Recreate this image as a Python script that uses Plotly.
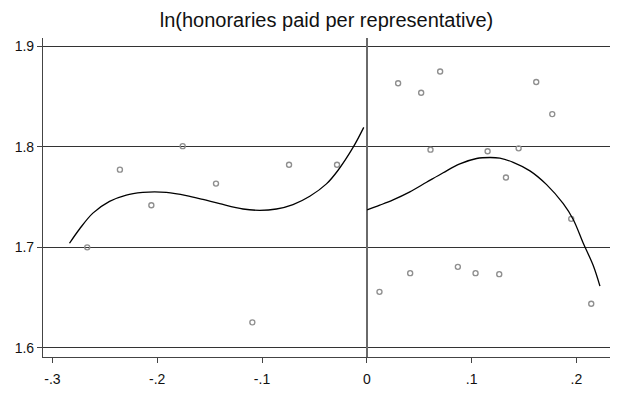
import plotly.graph_objects as go

# Scatter points (left of cutoff)
left_x = [-0.2668, -0.2356, -0.2056, -0.1757, -0.1439, -0.1092, -0.0742, -0.0284]
left_y = [1.7000, 1.7774, 1.7420, 1.8008, 1.7635, 1.6253, 1.7822, 1.7822]

# Scatter points (right of cutoff)
right_x = [0.0121, 0.0299, 0.0414, 0.0519, 0.0608, 0.0700, 0.0869, 0.1038,
           0.1153, 0.1264, 0.1328, 0.1449, 0.1617, 0.1770, 0.1951, 0.2142]
right_y = [1.6557, 1.8635, 1.6743, 1.8540, 1.7973, 1.8751, 1.6806, 1.6743,
           1.7957, 1.6733, 1.7695, 1.7986, 1.8647, 1.8327, 1.7284, 1.6439]

# Fitted curve, left side
fit_left_x = [-0.2837, -0.2741, -0.2614, -0.2455, -0.2295, -0.2137, -0.2025, -0.1913,
              -0.1722, -0.1564, -0.1404, -0.1181, -0.1022, -0.0862, -0.0704, -0.0544,
              -0.0385, -0.0274, -0.0131, -0.0029]
fit_left_y = [1.7041, 1.7183, 1.7341, 1.7458, 1.7521, 1.7547, 1.7553, 1.7547,
              1.7515, 1.7477, 1.7435, 1.7382, 1.7369, 1.7382, 1.7426, 1.7509,
              1.7632, 1.7768, 1.7995, 1.8195]

# Fitted curve, right side
fit_right_x = [0.0003, 0.0124, 0.0251, 0.0411, 0.0570, 0.0729, 0.0888, 0.1048, 0.1175,
               0.1270, 0.1397, 0.1557, 0.1716, 0.1875, 0.1970, 0.2066, 0.2161, 0.2225]
fit_right_y = [1.7373, 1.7420, 1.7473, 1.7553, 1.7648, 1.7743, 1.7831, 1.7885, 1.7895,
               1.7888, 1.7847, 1.7762, 1.7625, 1.7435, 1.7278, 1.7041, 1.6819, 1.6614]

x_tickvals = [-0.3, -0.2, -0.1, 0, 0.1, 0.2]
x_ticktext = ["-.3", "-.2", "-.1", "0", ".1", ".2"]
y_tickvals = [1.6, 1.7, 1.8, 1.9]
y_ticktext = ["1.6", "1.7", "1.8", "1.9"]

title_text = "ln(honoraries paid per representative)"

fig = go.Figure()

marker_style = dict(symbol="circle-open", size=5, color="#8f8f8f", line=dict(width=1.4, color="#8f8f8f"))

fig.add_trace(go.Scatter(x=left_x, y=left_y, mode="markers", marker=marker_style, showlegend=False))
fig.add_trace(go.Scatter(x=right_x, y=right_y, mode="markers", marker=marker_style, showlegend=False))
fig.add_trace(go.Scatter(x=fit_left_x, y=fit_left_y, mode="lines", line=dict(color="black", width=1.3, shape="spline"), showlegend=False))
fig.add_trace(go.Scatter(x=fit_right_x, y=fit_right_y, mode="lines", line=dict(color="black", width=1.3, shape="spline"), showlegend=False))

font_family = "Arial, Liberation Sans, sans-serif"

fig.update_layout(
    width=619, height=396,
    margin=dict(l=43, r=9, t=38, b=24),
    paper_bgcolor="white", plot_bgcolor="white",
    font=dict(family=font_family, size=14, color="#111"),
    title=dict(text=title_text, x=0.5, xref="paper", y=1 - 20 / 396, yref="container",
               xanchor="center", yanchor="middle",
               font=dict(family=font_family, size=20, color="#111")),
    xaxis=dict(range=[-0.309, 0.2321], tickvals=x_tickvals, ticktext=x_ticktext,
               showgrid=False, zeroline=True, zerolinecolor="#6a6a6a", zerolinewidth=1.6,
               showline=True, linecolor="#444", linewidth=1.2,
               ticks="outside", ticklen=5, tickcolor="#444", tickwidth=1.2,
               ticklabelstandoff=4,
               tickfont=dict(size=14)),
    yaxis=dict(range=[1.5908, 1.9085], tickvals=y_tickvals, ticktext=y_ticktext,
               showgrid=True, gridcolor="#333", gridwidth=1,
               zeroline=False,
               showline=True, linecolor="#444", linewidth=1.2,
               ticks="outside", ticklen=5, tickcolor="#444", tickwidth=1.2,
               tickfont=dict(size=14)),
)

fig.write_html("out.html")
